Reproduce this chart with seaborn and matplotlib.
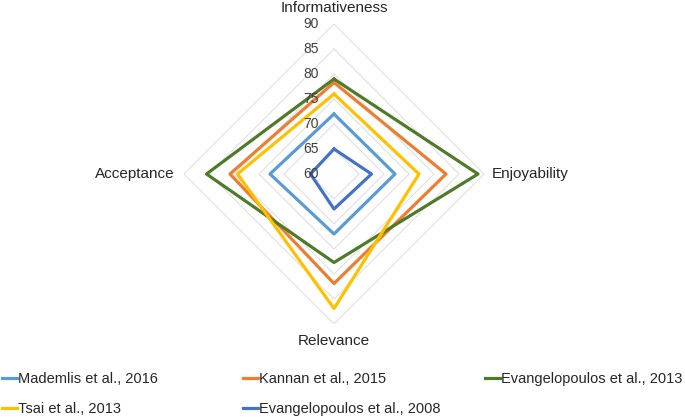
import numpy as np
import pandas as pd
import seaborn as sns
import matplotlib
matplotlib.use("Agg")
from matplotlib import pyplot as plt
from matplotlib.lines import Line2D
from matplotlib.transforms import offset_copy

# Data
categories = ["Informativeness", "Enjoyability", "Relevance", "Acceptance"]
studies = ["Mademlis et al., 2016", "Kannan et al., 2015", "Evangelopoulos et al., 2013",
           "Tsai et al., 2013", "Evangelopoulos et al., 2008"]
mademlis_2016 = [72, 72.2, 72, 72.8]
kannan_2015 = [78.3, 82.4, 81.9, 80.8]
evangelopoulos_2013 = [79, 88.8, 77.7, 85.5]
tsai_2013 = [76, 77, 86.9, 79.3]
evangelopoulos_2008 = [65, 67.5, 67, 64.7]
r_ticks = [60, 65, 70, 75, 80, 85, 90]

colors = ["#5B9BD5", "#ED7D31", "#4F7A28", "#FFC000", "#4472C4"]
series = [mademlis_2016, kannan_2015, evangelopoulos_2013, tsai_2013, evangelopoulos_2008]

# Build a long table, closing each polygon by repeating the first point
angles = np.arange(len(categories)) * 2 * np.pi / len(categories)
angles_closed = np.append(angles, 2 * np.pi)
rows = []
for name, vals in zip(studies, series):
    for a, v in zip(angles_closed, vals + vals[:1]):
        rows.append({"angle": a, "score": v, "study": name})
df = pd.DataFrame(rows)

plt.rcParams['font.family'] = ['Liberation Sans', 'DejaVu Sans']

fig = plt.figure(figsize=(6.85, 4.18), dpi=100)
ax = fig.add_axes([184 / 685, 94 / 418, 300 / 685, 300 / 418], projection='polar')
ax.set_theta_offset(np.pi / 2)
ax.set_theta_direction(-1)
ax.set_ylim(60, 90)
ax.grid(False)
ax.spines['polar'].set_visible(False)
ax.set_xticks([])
ax.set_yticks([])

# diamond shaped gridlines
for t in r_ticks[1:]:
    ax.plot(angles_closed, [t] * len(angles_closed), color="#e0e0e0", lw=0.8, zorder=0)

sns.lineplot(data=df, x="angle", y="score", hue="study", hue_order=studies,
             palette=colors, sort=False, estimator=None, lw=2.3, legend=False, ax=ax)
ax.set_xlabel("")
ax.set_ylabel("")

# radial tick labels left of the vertical axis
tick_tr = offset_copy(ax.transData, fig=fig, x=-15, y=0, units='dots')
for t in r_ticks:
    ax.text(0, t, str(t), transform=tick_tr, ha='right', va='center',
            fontsize=10, color="#404040")

# category labels
label_offsets = [(0, 16, 'center'), (8, 0, 'left'), (0, -17, 'center'), (-9, 0, 'right')]
for a, cat, (dx, dy, ha) in zip(angles, categories, label_offsets):
    tr = offset_copy(ax.transData, fig=fig, x=dx, y=dy, units='dots')
    ax.text(a, 90, cat, transform=tr, ha=ha, va='center', fontsize=11, color="#262626")

# legend laid out in three columns like the Excel one
handles = [Line2D([], [], color=c, lw=2.3) for c in colors]
columns = [([0, 3], 2), ([1, 4], 243), ([2], 485)]
for idx, x0 in columns:
    fig.legend([handles[i] for i in idx], [studies[i] for i in idx],
               loc='upper left', bbox_to_anchor=(x0 / 685, 1 - 372 / 418),
               frameon=False, fontsize=10.5, handlelength=1.0, handletextpad=0.1,
               borderaxespad=0, borderpad=0, labelspacing=1.1, labelcolor="#262626")

fig.savefig("out.png", dpi=100)
